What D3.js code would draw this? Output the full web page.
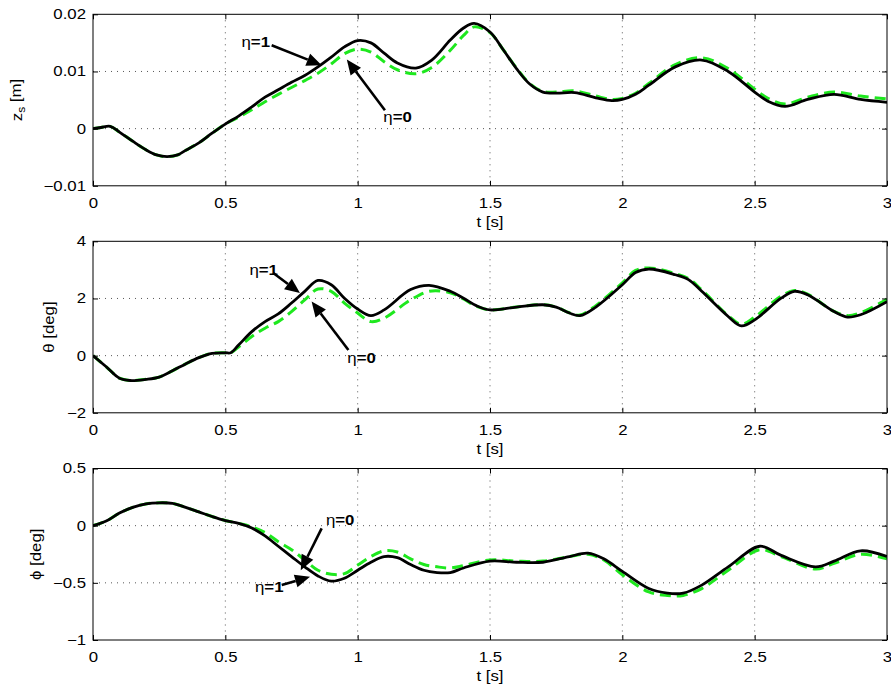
<!DOCTYPE html>
<html><head><meta charset="utf-8">
<script src="https://cdn.jsdelivr.net/npm/d3@7"></script>
<style>
body{margin:0;background:#fff}
text{font-family:"Liberation Sans",Arial,Helvetica,sans-serif;font-size:14px;fill:#000}
</style>
</head><body>
<svg id="chart" width="891" height="688"></svg>
<script>
// ---------------- data ----------------
const timeTicks = [0, 0.5, 1, 1.5, 2, 2.5, 3];

const zsTime = [0,0.03,0.065,0.1,0.15,0.2,0.24,0.28,0.32,0.35,
  0.4,0.45,0.5,0.55,0.6,0.65,0.7,0.75,0.8,0.85,
  0.9,0.95,1.0,1.05,1.1,1.15,1.22,1.28,1.35,1.4,
  1.44,1.5,1.55,1.6,1.65,1.7,1.75,1.82,1.9,1.96,
  2.0,2.05,2.1,2.2,2.3,2.4,2.5,2.55,2.615,2.7,
  2.8,2.9,3.0];
const zsEta1 = [0,0.0002,0.0004,-0.0006,-0.0022,-0.0037,-0.0046,-0.0049,-0.0046,-0.0038,
  -0.0025,-0.0008,0.0008,0.0022,0.0038,0.0055,0.0068,0.0081,0.0093,0.0108,
  0.0125,0.0143,0.0154,0.0150,0.0132,0.0115,0.0106,0.0120,0.0155,0.0176,
  0.0184,0.0169,0.0138,0.0105,0.0078,0.0064,0.0062,0.0063,0.0054,0.0049,
  0.0051,0.0060,0.0076,0.0108,0.0120,0.0100,0.0064,0.0048,0.0039,0.0051,
  0.0060,0.0051,0.0046];
const zsEta0 = [0,0.0002,0.0004,-0.0006,-0.0022,-0.0037,-0.0046,-0.0049,-0.0046,-0.0038,
  -0.0025,-0.0008,0.0008,0.0020,0.0033,0.0047,0.0060,0.0072,0.0084,0.0097,
  0.0113,0.0131,0.0139,0.0134,0.0117,0.0103,0.0096,0.0107,0.0137,0.0163,
  0.0178,0.0168,0.0138,0.0106,0.0079,0.0065,0.0064,0.0066,0.0057,0.0051,
  0.0053,0.0062,0.0079,0.0112,0.0124,0.0105,0.0069,0.0053,0.0043,0.0055,
  0.0064,0.0057,0.0052];
const zsTicks = [-0.01, 0, 0.01, 0.02];

const thTime = [0,0.05,0.1,0.14,0.2,0.25,0.3,0.35,0.4,0.45,
  0.5,0.52,0.55,0.6,0.65,0.7,0.75,0.8,0.85,0.9,
  0.95,1.0,1.05,1.1,1.2,1.27,1.35,1.4,1.45,1.5,
  1.6,1.7,1.75,1.8,1.84,1.9,2.0,2.05,2.1,2.2,
  2.25,2.3,2.4,2.45,2.5,2.6,2.65,2.7,2.8,2.85,
  2.9,3.0];
const thEta1 = [0,-0.39,-0.79,-0.87,-0.83,-0.75,-0.53,-0.29,-0.07,0.08,
  0.10,0.10,0.37,0.84,1.19,1.46,1.84,2.25,2.63,2.48,
  2.01,1.63,1.40,1.60,2.31,2.46,2.25,2.01,1.74,1.60,
  1.70,1.78,1.70,1.49,1.40,1.70,2.48,2.91,3.03,2.83,
  2.66,2.25,1.37,1.04,1.25,2.01,2.25,2.13,1.54,1.35,
  1.43,1.89];
const thEta0 = [0,-0.39,-0.79,-0.87,-0.83,-0.75,-0.53,-0.29,-0.07,0.08,
  0.10,0.10,0.30,0.67,0.96,1.19,1.54,1.95,2.33,2.25,
  1.84,1.49,1.19,1.31,1.95,2.25,2.20,1.98,1.72,1.60,
  1.70,1.78,1.70,1.50,1.42,1.75,2.55,2.98,3.07,2.87,
  2.70,2.30,1.40,1.10,1.35,2.08,2.28,2.15,1.55,1.40,
  1.50,1.97];
const thTicks = [-2, 0, 2, 4];

const phTime = [0,0.05,0.1,0.15,0.2,0.25,0.3,0.35,0.4,0.45,
  0.5,0.55,0.6,0.65,0.7,0.75,0.8,0.85,0.9,0.95,
  1.0,1.05,1.1,1.15,1.2,1.25,1.3,1.35,1.4,1.5,
  1.6,1.7,1.8,1.87,1.93,2.0,2.1,2.17,2.23,2.3,
  2.4,2.52,2.6,2.73,2.8,2.9,3.0];
const phEta1 = [0,0.04,0.11,0.16,0.19,0.20,0.195,0.16,0.12,0.08,
  0.045,0.02,-0.02,-0.09,-0.18,-0.27,-0.36,-0.44,-0.485,-0.46,
  -0.39,-0.32,-0.27,-0.28,-0.34,-0.39,-0.41,-0.41,-0.37,-0.31,
  -0.32,-0.32,-0.27,-0.24,-0.29,-0.40,-0.55,-0.59,-0.59,-0.52,
  -0.36,-0.18,-0.26,-0.36,-0.31,-0.22,-0.27];
const phEta0 = [0,0.04,0.11,0.16,0.19,0.20,0.195,0.16,0.12,0.08,
  0.045,0.02,-0.01,-0.06,-0.14,-0.21,-0.30,-0.39,-0.425,-0.42,
  -0.345,-0.27,-0.22,-0.23,-0.29,-0.34,-0.36,-0.37,-0.35,-0.30,
  -0.31,-0.31,-0.27,-0.25,-0.30,-0.43,-0.58,-0.61,-0.61,-0.55,
  -0.39,-0.21,-0.27,-0.38,-0.33,-0.25,-0.29];
const phTicks = [-1, -0.5, 0, 0.5];

// annotations in data coordinates: text anchor, arrow tail, arrow tip
const zsNotes = [
  {eta:"1", tx:0.561, ty:0.01424, x1:0.675, y1:0.01459, x2:0.864, y2:0.01109},
  {eta:"0", tx:1.097, ty:0.00116, x1:1.103, y1:0.0032,  x2:0.959, y2:0.01208}
];
const thNotes = [
  {eta:"1", tx:0.591, ty:2.81,  x1:0.681, y1:2.89, x2:0.782, y2:2.19},
  {eta:"0", tx:0.961, ty:-0.27, x1:0.965, y1:0.2,  x2:0.826, y2:1.89}
];
const phNotes = [
  {eta:"0", tx:0.880, ty:0.006,  x1:0.864, y1:-0.023, x2:0.785, y2:-0.389},
  {eta:"1", tx:0.612, ty:-0.584, x1:0.713, y1:-0.52,  x2:0.820, y2:-0.447}
];

// ---------------- layout ----------------
const SX = 1.2;            // horizontal glyph stretch
const left = 93, right = 887, ph = 171.5;
const panels = [
  {top:14.3,  time:zsTime, eta1:zsEta1, eta0:zsEta0, ticks:zsTicks, notes:zsNotes, label:"zs", labelX:22},
  {top:241.3, time:thTime, eta1:thEta1, eta0:thEta0, ticks:thTicks, notes:thNotes, label:"\u03b8 [deg]", labelX:53.5},
  {top:468.5, time:phTime, eta1:phEta1, eta0:phEta0, ticks:phTicks, notes:phNotes, label:"\u03d5 [deg]", labelX:40.5}
];

const svg = d3.select("#chart");
const x = d3.scaleLinear().domain([0, 3]).range([left, right]);
const fmt = d3.format("~g");

panels.forEach((p, i) => {
  const top = p.top, bot = top + ph;
  const y = d3.scaleLinear().domain(d3.extent(p.ticks)).range([bot, top]);
  const g = svg.append("g");

  // grid
  g.append("g").selectAll("line").data(timeTicks.slice(1, -1)).join("line")
    .attr("x1", d => x(d)).attr("x2", d => x(d)).attr("y1", top).attr("y2", bot)
    .attr("stroke", "#444").attr("stroke-width", 0.9).attr("stroke-dasharray", "1,5");
  g.append("g").selectAll("line").data(p.ticks.slice(1, -1)).join("line")
    .attr("y1", d => y(d)).attr("y2", d => y(d)).attr("x1", left).attr("x2", right)
    .attr("stroke", "#444").attr("stroke-width", 0.9).attr("stroke-dasharray", "1,5");

  // clip
  const cid = "clip" + i;
  svg.append("clipPath").attr("id", cid).append("rect")
    .attr("x", left).attr("y", top).attr("width", right - left).attr("height", ph);

  const line = d3.line().x(d => x(d[0])).y(d => y(d[1])).curve(d3.curveCatmullRom.alpha(0.5));
  const s0 = p.time.map((t, k) => [t, p.eta0[k]]);
  const s1 = p.time.map((t, k) => [t, p.eta1[k]]);
  const lg = g.append("g").attr("clip-path", `url(#${cid})`);
  lg.append("path").attr("d", line(s0)).attr("fill", "none")
    .attr("stroke", "#1ee81e").attr("stroke-width", 3).attr("stroke-dasharray", "11,6");
  lg.append("path").attr("d", line(s1)).attr("fill", "none")
    .attr("stroke", "#000").attr("stroke-width", 2.8).attr("stroke-linejoin", "round");

  // axes
  const axB = g.append("g").attr("transform", `translate(0,${bot})`)
    .call(d3.axisBottom(x).tickValues(timeTicks).tickSizeInner(-5).tickSizeOuter(0).tickPadding(12.5).tickFormat(fmt));
  const axT = g.append("g").attr("transform", `translate(0,${top})`)
    .call(d3.axisTop(x).tickValues(timeTicks).tickSizeInner(-5).tickSizeOuter(0).tickFormat(""));
  const axL = g.append("g").attr("transform", `translate(${left},0)`)
    .call(d3.axisLeft(y).tickValues(p.ticks).tickSizeInner(-5).tickSizeOuter(0).tickPadding(5.8).tickFormat(fmt));
  const axR = g.append("g").attr("transform", `translate(${right},0)`)
    .call(d3.axisRight(y).tickValues(p.ticks).tickSizeInner(-5).tickSizeOuter(0).tickFormat(""));
  [axB, axT, axL, axR].forEach(a => {
    a.attr("font-family", null).attr("font-size", null);
    a.select(".domain").remove();
    a.selectAll(".tick line").attr("stroke", "#000");
    a.selectAll("text").attr("transform", `scale(${SX},1)`).style("font-size", "14px");
  });

  // frame
  g.append("rect").attr("x", left).attr("y", top).attr("width", right - left).attr("height", ph)
    .attr("fill", "none").attr("stroke", "#000").attr("stroke-width", 1);

  // x label
  g.append("text").attr("text-anchor", "middle")
    .attr("transform", `translate(${(left + right) / 2},${bot + 41}) scale(${SX},1)`)
    .text("t [s]");

  // y label
  const yl = g.append("text").attr("text-anchor", "middle")
    .attr("transform", `translate(${p.labelX},${(top + bot) / 2}) rotate(-90) scale(${SX},1)`);
  if (p.label === "zs") {
    yl.append("tspan").text("z");
    yl.append("tspan").attr("dy", "0.3em").style("font-size", "10px").text("s");
    yl.append("tspan").attr("dy", "-0.3em").text(" [m]");
  } else {
    yl.text(p.label);
  }

  // annotations
  p.notes.forEach(n => {
    const ax1 = x(n.x1), ay1 = y(n.y1), ax2 = x(n.x2), ay2 = y(n.y2);
    const ang = Math.atan2(ay2 - ay1, ax2 - ax1);
    const L = 15, Wd = 6.5;
    const bx = ax2 - L * Math.cos(ang), by = ay2 - L * Math.sin(ang);
    g.append("line").attr("x1", ax1).attr("y1", ay1).attr("x2", bx).attr("y2", by)
      .attr("stroke", "#000").attr("stroke-width", 2.6);
    g.append("path").attr("fill", "#000")
      .attr("d", `M${ax2},${ay2}L${bx + Wd * Math.sin(ang)},${by - Wd * Math.cos(ang)}L${bx - Wd * Math.sin(ang)},${by + Wd * Math.cos(ang)}Z`);
    const t = g.append("text").attr("transform", `translate(${x(n.tx)},${y(n.ty)}) scale(${SX},1)`);
    t.append("tspan").text("\u03b7");
    t.append("tspan").attr("font-weight", "bold").text("=" + n.eta);
  });
});
</script>
</body></html>
